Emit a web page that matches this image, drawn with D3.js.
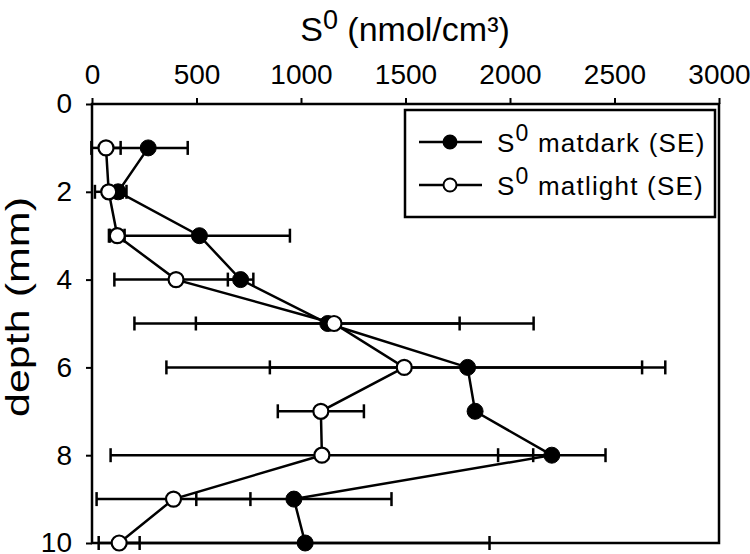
<!DOCTYPE html>
<html>
<head>
<meta charset="utf-8">
<script src="https://cdn.jsdelivr.net/npm/d3@7"></script>
<style>
  html, body { margin: 0; padding: 0; background: #fff; }
  svg { display: block; }
  text { font-family: Arial, "Liberation Sans", sans-serif; fill: #000; }
</style>
</head>
<body>
<div id="chart"></div>
<script>
// ---- data ----
const depths = [1, 2, 3, 4, 5, 6, 7, 8, 9, 10];
const darkMean = [269, 125, 514, 711, 1128, 1797, 1833, 2200, 966, 1020];
const darkSE   = [189, 40, 433, 61, 631, 946, 0, 257, 467, 882];
const lightMean = [67, 80, 121, 402, 1158, 1494, 1095, 1100, 390, 130];
const lightSE   = [70, 66, 35, 295, 955, 1138, 206, 1011, 368, 98];
const xTicks = [0, 500, 1000, 1500, 2000, 2500, 3000];
const yTicks = [0, 2, 4, 6, 8, 10];
const seriesNames = ["matdark (SE)", "matlight (SE)"];

const W = 750, H = 554;
const margin = { top: 104, right: 31, bottom: 11, left: 92 };
const FONT = "Arial, 'Liberation Sans', sans-serif";

const svg = d3.select("#chart").append("svg")
  .attr("width", W).attr("height", H);

const x = d3.scaleLinear().domain([0, 3000]).range([margin.left, W - margin.right]);
const y = d3.scaleLinear().domain([0, 10]).range([margin.top, H - margin.bottom]);

// frame
svg.append("rect")
  .attr("x", x(0)).attr("y", y(0))
  .attr("width", x(3000) - x(0)).attr("height", y(10) - y(0))
  .attr("fill", "none").attr("stroke", "#000").attr("stroke-width", 2.5);

// top axis
const gx = svg.append("g")
  .attr("transform", `translate(0,${y(0)})`)
  .call(d3.axisTop(x).tickValues(xTicks).tickSize(6).tickPadding(14).tickFormat(d3.format("d")));
gx.select(".domain").remove();
gx.selectAll(".tick line").attr("stroke", "#000").attr("stroke-width", 2);
gx.selectAll(".tick text").attr("font-size", 28).attr("font-family", FONT);

// left axis
const gy = svg.append("g")
  .attr("transform", `translate(${x(0)},0)`)
  .call(d3.axisLeft(y).tickValues(yTicks).tickSize(6).tickPadding(14).tickFormat(d3.format("d")));
gy.select(".domain").remove();
gy.selectAll(".tick line").attr("stroke", "#000").attr("stroke-width", 2);
gy.selectAll(".tick text").attr("font-size", 28).attr("font-family", FONT);

// titles
const title = svg.append("text")
  .attr("x", 405).attr("y", 41)
  .attr("text-anchor", "middle")
  .attr("font-size", 34);
title.append("tspan").text("S");
title.append("tspan").attr("dy", -12).attr("font-size", 27).text("0");
title.append("tspan").attr("dy", 12).text(" (nmol/cm³)");

svg.append("text")
  .attr("transform", "translate(29,307) rotate(-90)")
  .attr("text-anchor", "middle")
  .attr("font-size", 33)
  .attr("textLength", 220)
  .attr("lengthAdjust", "spacingAndGlyphs")
  .text("depth (mm)");

// series
const dark = depths.map((d, i) => ({ depth: d, v: darkMean[i], se: darkSE[i] }));
const light = depths.map((d, i) => ({ depth: d, v: lightMean[i], se: lightSE[i] }));
const capH = 7;

function errorBars(data) {
  const g = svg.append("g").attr("stroke", "#000").attr("stroke-width", 2.5);
  data.forEach(d => {
    if (d.se <= 0) return;
    const x0 = x(d.v - d.se), x1 = x(d.v + d.se), yy = y(d.depth);
    g.append("line").attr("x1", x0).attr("x2", x1).attr("y1", yy).attr("y2", yy);
    g.append("line").attr("x1", x0).attr("x2", x0).attr("y1", yy - capH).attr("y2", yy + capH);
    g.append("line").attr("x1", x1).attr("x2", x1).attr("y1", yy - capH).attr("y2", yy + capH);
  });
}
errorBars(dark);
errorBars(light);

const line = d3.line().x(d => x(d.v)).y(d => y(d.depth));
svg.append("path").datum(dark).attr("d", line)
  .attr("fill", "none").attr("stroke", "#000").attr("stroke-width", 2.5);
svg.append("path").datum(light).attr("d", line)
  .attr("fill", "none").attr("stroke", "#000").attr("stroke-width", 2.5);

svg.append("g").selectAll("circle").data(dark).join("circle")
  .attr("cx", d => x(d.v)).attr("cy", d => y(d.depth)).attr("r", 8)
  .attr("fill", "#000").attr("stroke", "#000").attr("stroke-width", 1);
svg.append("g").selectAll("circle").data(light).join("circle")
  .attr("cx", d => x(d.v)).attr("cy", d => y(d.depth)).attr("r", 7.5)
  .attr("fill", "#fff").attr("stroke", "#000").attr("stroke-width", 2.2);

// legend
const lg = svg.append("g");
lg.append("rect").attr("x", 405).attr("y", 110).attr("width", 310).attr("height", 107)
  .attr("fill", "#fff").attr("stroke", "#000").attr("stroke-width", 2.5);
const rows = [
  { name: seriesNames[0], fill: "#000", yy: 142 },
  { name: seriesNames[1], fill: "#fff", yy: 185 }
];
rows.forEach(r => {
  lg.append("line").attr("x1", 419).attr("x2", 482).attr("y1", r.yy).attr("y2", r.yy)
    .attr("stroke", "#000").attr("stroke-width", 2.5);
  lg.append("circle").attr("cx", 450).attr("cy", r.yy).attr("r", 6.5)
    .attr("fill", r.fill).attr("stroke", "#000").attr("stroke-width", 2);
  const t = lg.append("text").attr("x", 497).attr("y", r.yy + 10).attr("font-size", 26)
    .attr("letter-spacing", 1.2);
  t.append("tspan").text("S");
  t.append("tspan").attr("dy", -11).attr("font-size", 23).text("0");
  t.append("tspan").attr("dy", 11).text(" " + r.name);
});
</script>
</body>
</html>
